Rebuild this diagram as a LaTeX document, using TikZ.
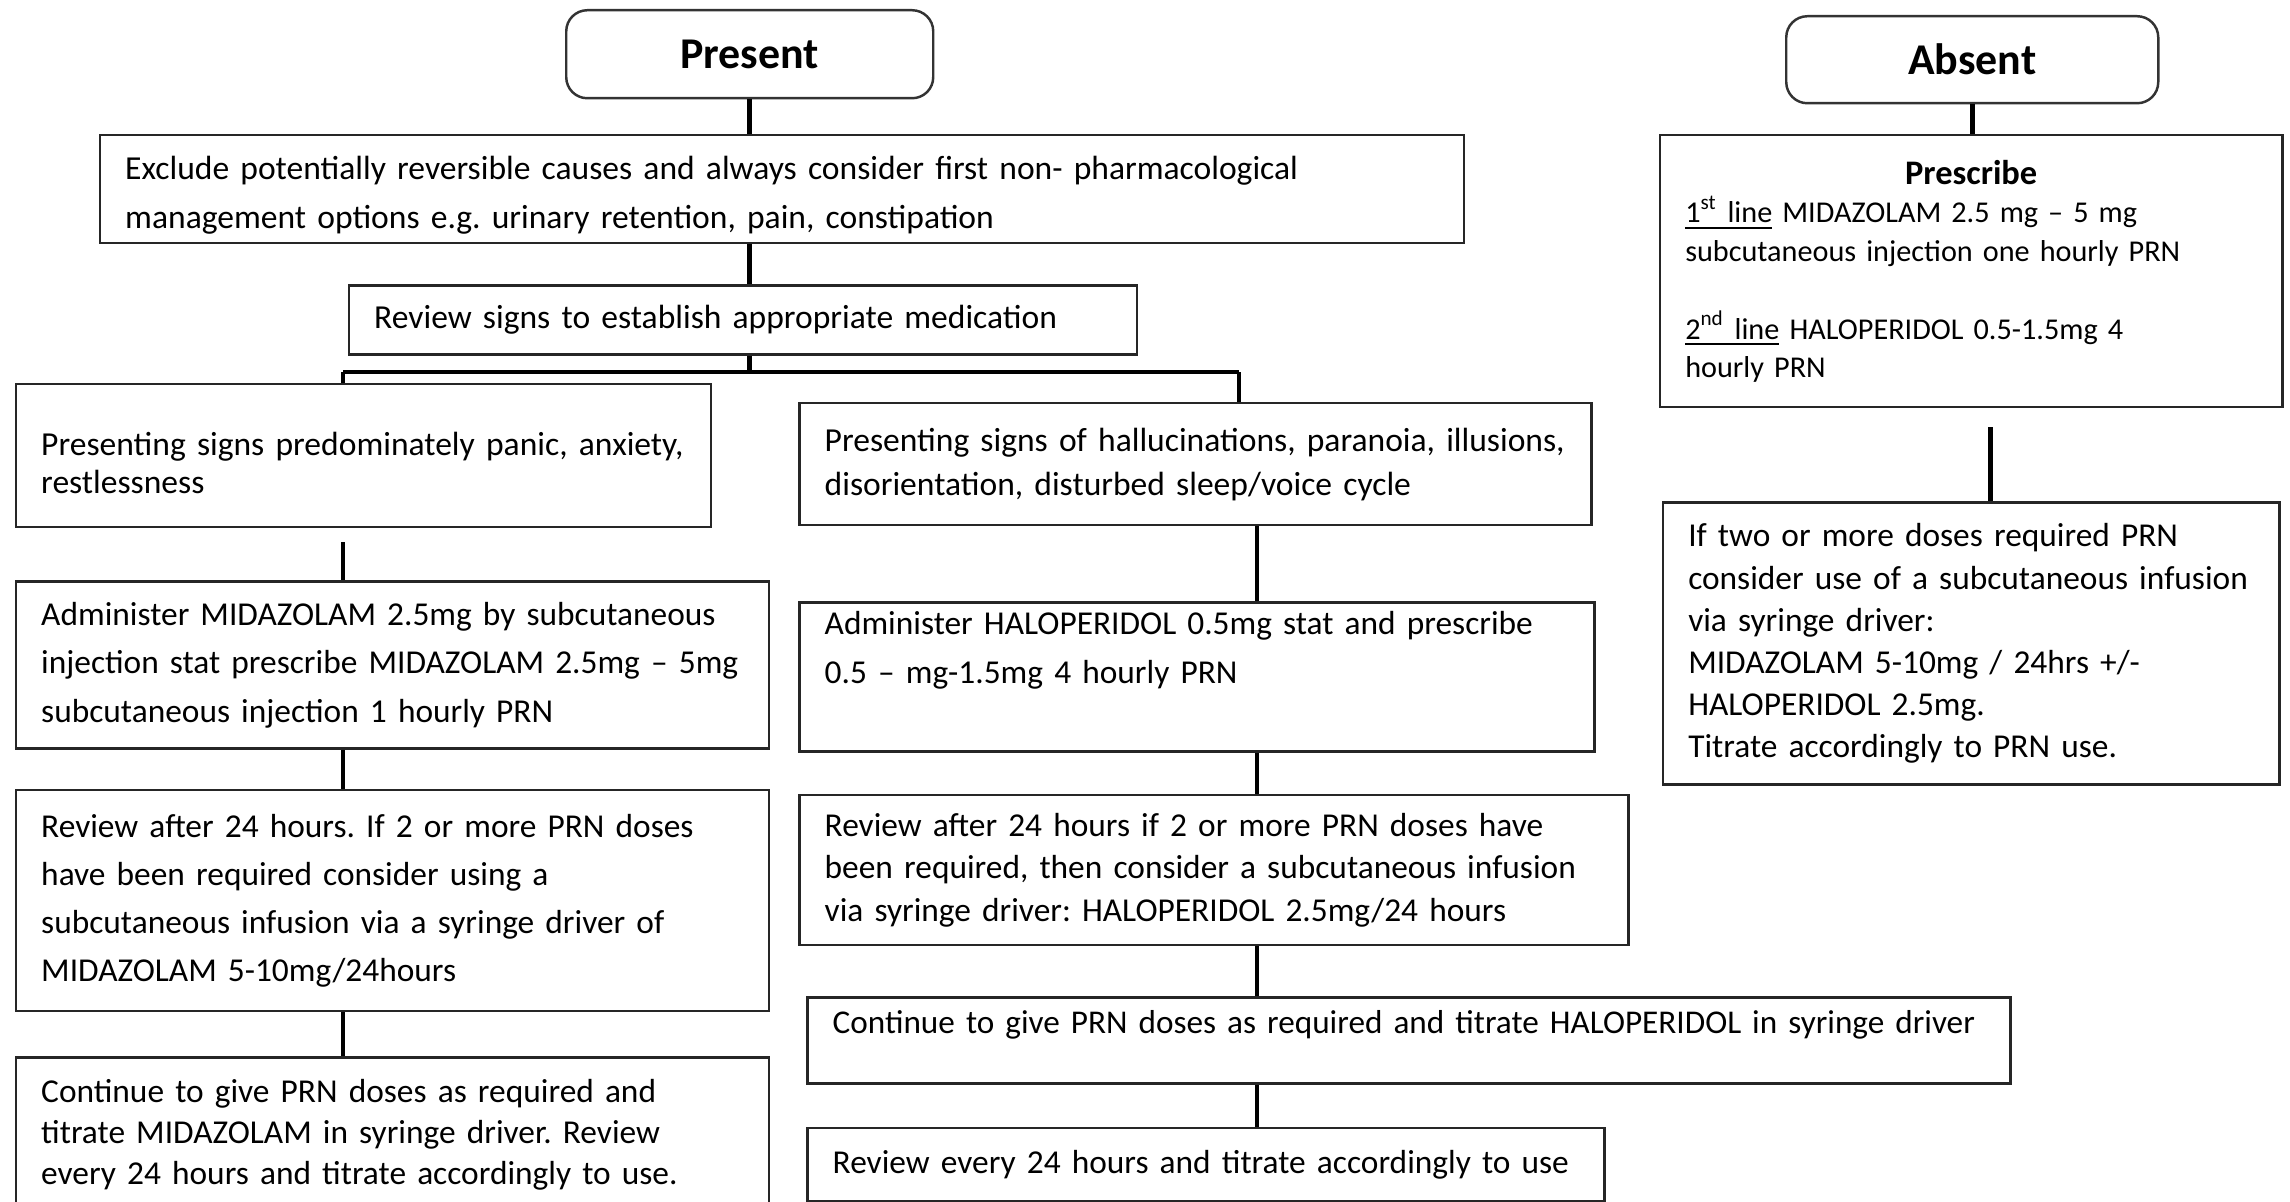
\documentclass[tikz,border=0pt]{standalone}
\usepackage{fontspec}
\setmainfont{Carlito}
\usetikzlibrary{positioning}
\frenchspacing

\begin{document}
\begin{tikzpicture}[
        node distance=0.4cm and 0.3cm,
        headbox/.style={rectangle, rounded corners=6pt, draw=black!80, line width=0.7pt, minimum width=3.67cm, minimum height=0.88cm, anchor=north west, font=\fontsize{12.5}{15}\selectfont\bfseries},
        stepbox/.style={rectangle, draw=black!85, line width=0.7pt, align=left, inner xsep=0.25cm, inner ysep=0pt, anchor=north west},
        link/.style={line width=1.3pt},
    ]
        \useasboundingbox (0,0) rectangle (22.90,-12.01);

        % Heads
        \node[headbox] (present) at (5.65,-0.09) {Present};
        \node[headbox, minimum width=3.72cm, minimum height=0.87cm] (absent) at (17.85,-0.15) {Absent};

        % Present: common steps
        \node[stepbox, text width=13.14cm, minimum height=1.08cm, font=\fontsize{9.55}{14.1}\selectfont] (excl) at (0.99,-1.34) {\rule{0pt}{0.1cm}\\[-0.24cm]Exclude potentially reversible causes and always consider first non- pharmacological\\management options e.g. urinary retention, pain, constipation};
        \node[stepbox, text width=7.38cm, minimum height=0.69cm, font=\fontsize{9.55}{12}\selectfont, below right=0.40cm and 2.49cm of excl.south west] (signs) {Review signs to establish appropriate medication};

        % Panic / anxiety branch
        \node[stepbox, text width=6.45cm, minimum height=1.43cm, font=\fontsize{9.55}{10.8}\selectfont] (panic) at (0.15,-3.83) {\rule{0pt}{0.1cm}\\[-0.1cm]Presenting signs predominately panic, anxiety,\\restlessness};
        \node[stepbox, text width=7.03cm, minimum height=1.67cm, font=\fontsize{9.5}{13.7}\selectfont, below right=0.52cm and 0cm of panic.south west] (adm1) {Administer MIDAZOLAM 2.5mg by subcutaneous\\injection stat prescribe MIDAZOLAM 2.5mg – 5mg\\subcutaneous injection 1 hourly PRN};
        \node[stepbox, text width=7.03cm, minimum height=2.21cm, font=\fontsize{9.5}{13.7}\selectfont, below right=0.39cm and 0cm of adm1.south west] (rev1) {Review after 24 hours. If 2 or more PRN doses\\have been required consider using a\\subcutaneous infusion via a syringe driver of\\MIDAZOLAM 5-10mg/24hours};
        \node[stepbox, text width=7.03cm, minimum height=1.54cm, font=\fontsize{9.5}{11.6}\selectfont, below right=0.44cm and 0cm of rev1.south west] (cont1) {Continue to give PRN doses as required and\\titrate MIDAZOLAM in syringe driver. Review\\every 24 hours and titrate accordingly to use.};

        % Hallucination branch
        \node[stepbox, text width=7.42cm, minimum height=1.22cm, font=\fontsize{9.55}{12.5}\selectfont, below right=0.19cm and 0.86cm of panic.north east] (halluc) {Presenting signs of hallucinations, paranoia, illusions,\\disorientation, disturbed sleep/voice cycle};
        \node[stepbox, text width=7.45cm, minimum height=1.49cm, font=\fontsize{9.5}{14.1}\selectfont, below right=0.75cm and 0cm of halluc.south west] (adm2) {Administer HALOPERIDOL 0.5mg stat and prescribe\\0.5 – mg-1.5mg 4 hourly PRN\\[0.1cm]\mbox{}};
        \node[stepbox, text width=7.79cm, minimum height=1.50cm, font=\fontsize{9.5}{12.1}\selectfont, below right=0.41cm and 0cm of adm2.south west] (rev2) {Review after 24 hours if 2 or more PRN doses have\\been required, then consider a subcutaneous infusion\\via syringe driver: HALOPERIDOL 2.5mg/24 hours};
        \node[stepbox, text width=11.53cm, minimum height=0.86cm, text depth=0.38cm, font=\fontsize{9.45}{12}\selectfont, below right=0.50cm and 0.08cm of rev2.south west] (cont2) {Continue to give PRN doses as required and titrate HALOPERIDOL in syringe driver};
        \node[stepbox, text width=7.47cm, minimum height=0.73cm, font=\fontsize{9.5}{12}\selectfont, below right=0.42cm and 0cm of cont2.south west] (revery) {Review every 24 hours and titrate accordingly to use};

        % Absent branch
        \node[stepbox, text width=5.72cm, minimum height=2.72cm, font=\fontsize{8.6}{11}\selectfont] (presc) at (16.59,-1.34) {\makebox[\linewidth]{\fontsize{9.8}{11}\selectfont\textbf{Prescribe}}\\\underline{1\textsuperscript{st} line} MIDAZOLAM 2.5 mg – 5 mg\\subcutaneous injection one hourly PRN\\[0.39cm]\underline{2\textsuperscript{nd} line} HALOPERIDOL 0.5-1.5mg 4\\hourly PRN};
        \node[stepbox, text width=5.66cm, minimum height=2.82cm, font=\fontsize{9.5}{12}\selectfont, below right=0.93cm and 0.03cm of presc.south west] (iftwo) {If two or more doses required PRN\\consider use of a subcutaneous infusion\\via syringe driver:\\MIDAZOLAM 5-10mg / 24hrs +/-\\HALOPERIDOL 2.5mg.\\Titrate accordingly to PRN use.};

        % Fork points
        \coordinate (forkL) at (3.43,-3.72);
        \coordinate (forkR) at (12.39,-3.72);
        \coordinate (colR) at (12.57,0);

        % Connectors, present side
        \draw[link] (present.south) -- (present.south |- excl.north);
        \draw[link] (present.south |- excl.south) -- (present.south |- signs.north);
        \draw[link] (present.south |- signs.south) -- (present.south |- forkL);
        \draw[link] (forkL) -- (forkR);
        \draw[link] (forkL) -- (forkL |- panic.north);
        \draw[link] (forkR) -- (forkR |- halluc.north);
        \draw[link, shorten <=0.14cm] (forkL |- panic.south) -- (forkL |- adm1.north);
        \draw[link] (forkL |- adm1.south) -- (forkL |- rev1.north);
        \draw[link] (forkL |- rev1.south) -- (forkL |- cont1.north);
        \draw[link] (colR |- halluc.south) -- (colR |- adm2.north);
        \draw[link] (colR |- adm2.south) -- (colR |- rev2.north);
        \draw[link] (colR |- rev2.south) -- (colR |- cont2.north);
        \draw[link] (colR |- cont2.south) -- (colR |- revery.north);

        % Connectors, absent side
        \draw[link] (absent.south) -- (absent.south |- presc.north);
        \draw[link, shorten <=0.19cm] ([xshift=0.19cm]presc.south) -- ([xshift=0.19cm]presc.south |- iftwo.north);
    \end{tikzpicture}
\end{document}
